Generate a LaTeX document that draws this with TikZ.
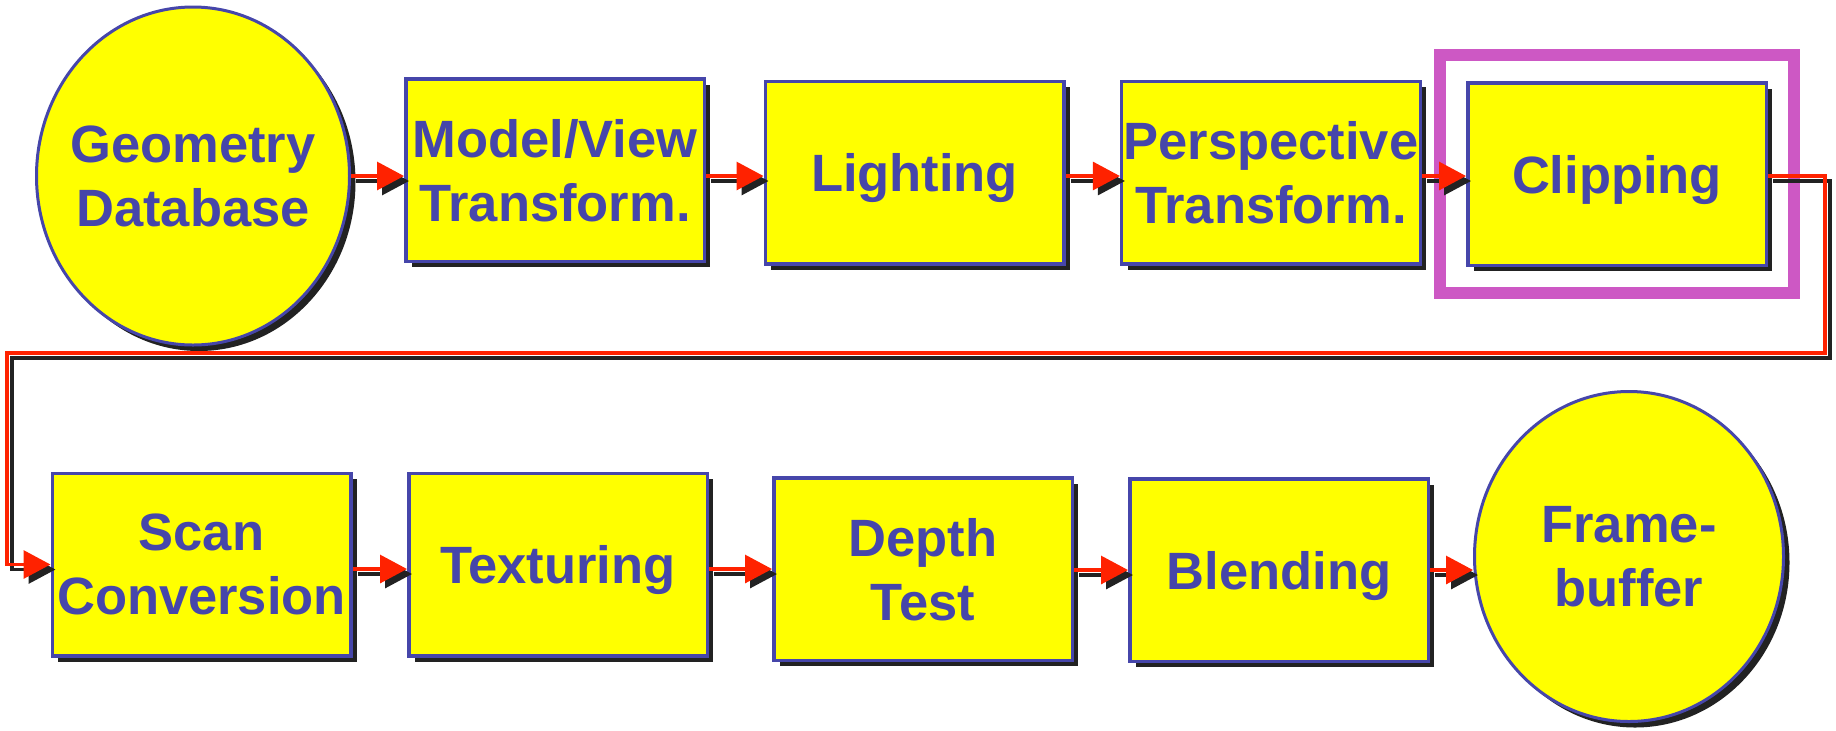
\documentclass[tikz,border=0pt]{standalone}
\usepackage{fontspec}
\setmainfont{Liberation Sans}
\usetikzlibrary{shapes.geometric}
\usetikzlibrary{shadows}
\usetikzlibrary{arrows.meta}
\usetikzlibrary{fit}

\definecolor{stageblue}{RGB}{70,70,170}
\definecolor{stageyellow}{RGB}{255,255,0}
\definecolor{flowred}{RGB}{255,34,0}
\definecolor{shadowgray}{RGB}{34,34,34}
\definecolor{markpink}{RGB}{205,88,196}

\tikzset{
  stagetext/.style={text=stageblue, font=\bfseries\fontsize{26.25}{32}\selectfont, align=center, inner sep=1pt, text depth=0pt},
  stage/.style={stagetext, rectangle, draw=stageblue, line width=1.75pt, fill=stageyellow, minimum width=149.25pt, minimum height=91.25pt, drop shadow={shadow xshift=3pt, shadow yshift=-3pt, fill=shadowgray, opacity=1}},
  store/.style={stagetext, ellipse, draw=stageblue, line width=1.5pt, fill=stageyellow, drop shadow={shadow xshift=3pt, shadow yshift=-3pt, fill=shadowgray, opacity=1}},
  clipmark/.style={draw=markpink, line width=6pt, inner sep=13pt},
  flow/.style={draw=flowred, line width=1.6pt, -{Triangle[length=13.5pt,width=14pt]}},
  flowshadow/.style={flow, draw=shadowgray, transform canvas={shift={(2.5pt,-2.5pt)}}},
}

\begin{document}
\begin{tikzpicture}[x=0.5pt,y=-0.5pt]
\useasboundingbox (0,0) rectangle (1836,730);

%Shape: Ellipse -- first stage
\node[store, inner xsep=-8pt, minimum width=156.5pt, minimum height=169pt] (geo) at (193,176) {Geometry\\Database};
%Shape: Rectangle -- top row
\node[stage] (mv) at (555,170) {Model/View\\Transform.};
\node[stage] (light) at (914.5,172.5) {Lighting};
\node[stage] (persp) at (1271,172.5) {Perspective\\Transform.};
\node[stage] (clip) at (1617,174) {Clipping};

%Shape: Rectangle -- bottom row
\node[stage] (scan) at (201.5,564.5) {Scan\\Conversion};
\node[stage] (tex) at (558,564.5) {Texturing};
\node[stage] (depth) at (923,569) {Depth\\Test};
\node[stage] (blend) at (1279,570) {Blending};
%Shape: Ellipse -- last stage
\node[store, minimum width=154.5pt, minimum height=165pt] (frame) at (1629,556.5) {Frame-\\buffer};

%Shape: Frame round the clipping stage
\node[clipmark, fit=(clip)] (clipzone) {};

%Straight Lines -- stage to stage
\foreach \a/\b/\r in {geo/mv/geo, mv/light/geo, light/persp/geo, persp/clip/geo,
                      scan/tex/depth, tex/depth/depth, depth/blend/blend, blend/frame/blend}{
  \draw[flowshadow] (\a.east |- \r) -- (\b.west |- \r);
  \draw[flow] (\a.east |- \r) -- (\b.west |- \r);
}

%Straight Lines -- wrap from top row to bottom row
\coordinate (wrapR) at (1825,353);
\coordinate (wrapL) at (7,353);
\draw[flowshadow] (clip.east |- geo) -| (wrapR) -- (wrapL) |- (scan.west);
\draw[flow] (clip.east |- geo) -| (wrapR) -- (wrapL) |- (scan.west);

\end{tikzpicture}
\end{document}
